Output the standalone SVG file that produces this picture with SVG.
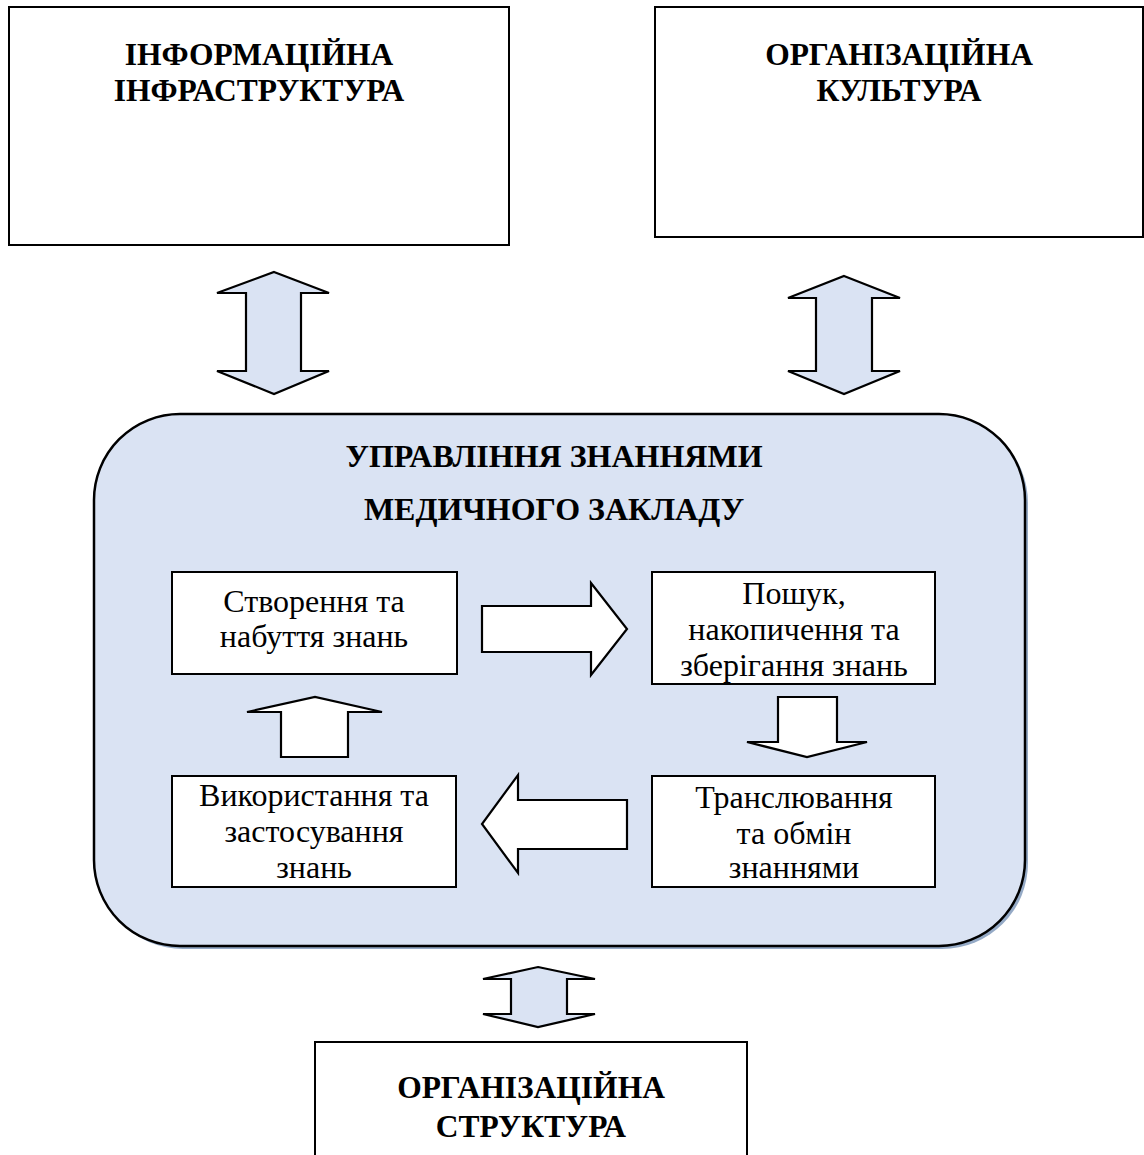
<svg xmlns="http://www.w3.org/2000/svg" width="1144" height="1155" viewBox="0 0 1144 1155">
<style>
.box{fill:#fff;stroke:#000;stroke-width:2}
.arr{fill:#dae3f3;stroke:#000;stroke-width:2.2;stroke-linejoin:miter}
.warr{fill:#fff;stroke:#000;stroke-width:2.2}
.h{font-family:"Liberation Serif","Times New Roman",serif;font-weight:bold;font-size:31.5px;text-anchor:middle;fill:#000}
.hm{font-size:32px}
.t{font-family:"Liberation Serif","Times New Roman",serif;font-size:32px;text-anchor:middle;fill:#000}
</style>
<rect width="1144" height="1155" fill="#fff"/>
<g id="info-infra">
<rect class="box" x="9" y="7" width="500" height="238"/>
<text class="h" x="259" y="65">ІНФОРМАЦІЙНА</text>
<text class="h" x="259" y="101">ІНФРАСТРУКТУРА</text>
</g>
<g id="org-culture">
<rect class="box" x="655" y="7" width="488" height="230"/>
<text class="h" x="899" y="65">ОРГАНІЗАЦІЙНА</text>
<text class="h" x="899" y="101">КУЛЬТУРА</text>
</g>
<g id="km">
<rect x="97" y="417" width="931" height="532" rx="86" ry="86" fill="#95aac6"/>
<rect x="94" y="414" width="931" height="532" rx="86" ry="86" fill="#dae3f3" stroke="#000" stroke-width="2.5"/>
<text class="h hm" x="554" y="467">УПРАВЛІННЯ ЗНАННЯМИ</text>
<text class="h hm" x="554" y="520">МЕДИЧНОГО ЗАКЛАДУ</text>
</g>
<g id="create">
<rect class="box" x="172" y="572" width="285" height="102"/>
<text class="t" x="314" y="612">Створення та</text>
<text class="t" x="314" y="647">набуття знань</text>
</g>
<g id="search">
<rect class="box" x="652" y="572" width="283" height="112"/>
<text class="t" x="794" y="604">Пошук,</text>
<text class="t" x="794" y="640">накопичення та</text>
<text class="t" x="794" y="676">зберігання знань</text>
</g>
<g id="use">
<rect class="box" x="172" y="776" width="284" height="111"/>
<text class="t" x="314" y="806">Використання та</text>
<text class="t" x="314" y="842">застосування</text>
<text class="t" x="314" y="878">знань</text>
</g>
<g id="transfer">
<rect class="box" x="652" y="776" width="283" height="111"/>
<text class="t" x="794" y="808">Транслювання</text>
<text class="t" x="794" y="844">та обмін</text>
<text class="t" x="794" y="878">знаннями</text>
</g>
<g id="org-structure">
<rect class="box" x="315" y="1042" width="432" height="130"/>
<text class="h" x="531" y="1098">ОРГАНІЗАЦІЙНА</text>
<text class="h" x="531" y="1137">СТРУКТУРА</text>
</g>
<g id="connectors">
<path class="arr" d="M274,272 L329,293 L301,293 L301,371 L329,371 L274,394 L217,371 L246,371 L246,293 L217,293 Z"/>
<path class="arr" d="M844,276 L900,298 L872,298 L872,371 L900,371 L844,394 L788,371 L816,371 L816,298 L788,298 Z"/>
<path class="arr" d="M538,967 L595,979 L567,979 L567,1014 L595,1014 L538,1027 L483,1014 L511,1014 L511,979 L483,979 Z"/>
<path class="warr" d="M482,606 L591,606 L591,583 L627,629 L591,675 L591,652 L482,652 Z"/>
<path class="warr" d="M778,697 L837,697 L837,742 L867,742 L807,757 L747,742 L778,742 Z"/>
<path class="warr" d="M627,800 L518,800 L518,775 L482,824 L518,873 L518,849 L627,849 Z"/>
<path class="warr" d="M281,757 L281,712 L247,712 L315,697 L382,712 L348,712 L348,757 Z"/>
</g>
</svg>
